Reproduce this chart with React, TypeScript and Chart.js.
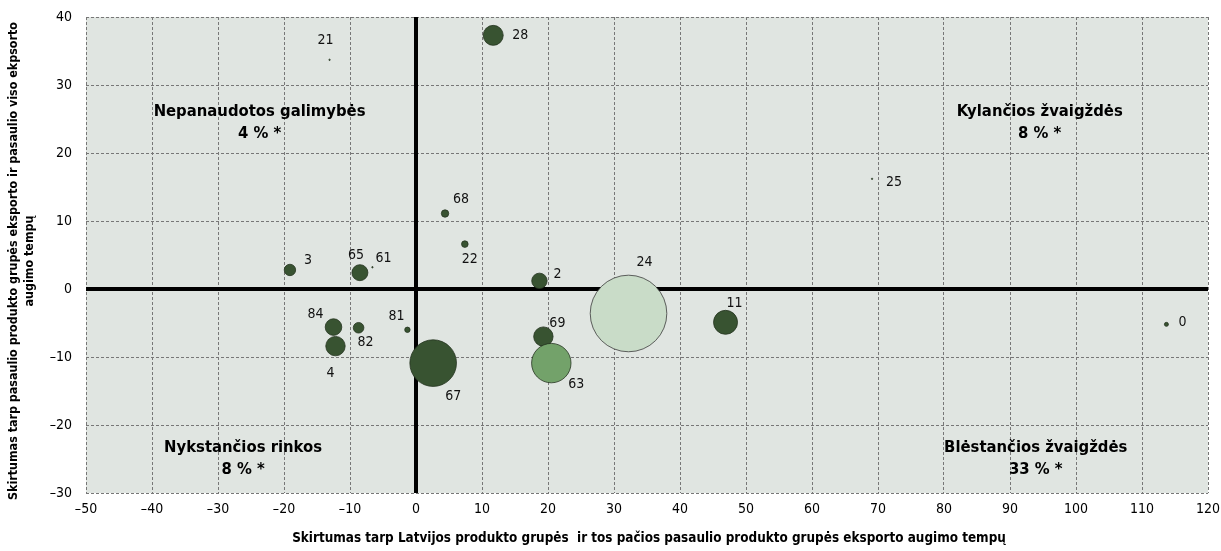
import React, { useEffect, useRef } from 'react';
import { Chart, registerables } from 'chart.js';

Chart.register(...registerables);

// ---- data ----
const productCodes = ['21', '28', '68', '22', '3', '65', '61', '2', '84', '82', '4', '81', '67', '69', '63', '24', '11', '25', '0'];
const latviaVsWorldGrowth = [-13.1, 11.7, 4.4, 7.4, -19.1, -8.5, -6.6, 18.7, -12.5, -8.7, -12.2, -1.3, 2.6, 19.3, 20.5, 32.2, 46.9, 69.1, 113.7];
const groupVsTotalGrowth = [33.7, 37.3, 11.1, 6.6, 2.8, 2.4, 3.2, 1.2, -5.6, -5.7, -8.4, -6.0, -10.9, -7.0, -10.9, -3.6, -4.9, 16.2, -5.2];
const bubbleSizes = [0.7, 10, 3.7, 3.3, 5.7, 8, 0.7, 7.7, 8.3, 5.3, 9.7, 2.7, 23.3, 9.7, 19.7, 38.3, 12, 0.7, 2];
const bubbleShade = ['dark', 'dark', 'dark', 'dark', 'dark', 'dark', 'dark', 'dark', 'dark', 'dark', 'dark', 'dark', 'dark', 'dark', 'mid', 'light', 'dark', 'dark', 'dark'];

const xTickMin = -50;
const xTickMax = 120;
const yTickMin = -30;
const yTickMax = 40;

const quadrantTitles = ['Nepanaudotos galimybės', 'Kylančios žvaigždės', 'Nykstančios rinkos', 'Blėstančios žvaigždės'];
const quadrantShares = ['4 % *', '8 % *', '8 % *', '33 % *'];
const quadrantX = [-23.7, 94.5, -26.2, 93.9];
const quadrantY = [24.5, 24.5, -24.9, -24.9];

const xAxisTitle = 'Skirtumas tarp Latvijos produkto grupės  ir tos pačios pasaulio produkto grupės eksporto augimo tempų';
const yAxisTitle = ['Skirtumas tarp pasaulio produkto grupės eksporto ir pasaulio viso ekpsorto', 'augimo tempų'];

// label offsets (px) relative to the bubble centre
const labelDx = [-4, 27, 16, 5, 18, -4, 11, 18, -18, 7, -5, -11, 20, 14, 25, 16, 9, 22, 16];
const labelDy = [-19, 0, -14, 15, -10, -17, -9, -6, -13, 15, 27, -13, 33, -13, 21, -51, -19, 4, -2];

const NARROW = "'Liberation Sans Narrow', 'Arial Narrow', 'DejaVu Sans Condensed', sans-serif";
const shadeColors: Record<string, string> = { dark: '#385331', mid: '#73a26a', light: '#c9dcc8' };

const minus = (v: number | string) => String(v).replace('-', '\u2013');

export default function App() {
  const ref = useRef<HTMLCanvasElement | null>(null);

  useEffect(() => {
    document.body.style.margin = '0';
    const canvas = ref.current;
    if (!canvas) return;

    const data = productCodes.map((_, i) => ({
      x: latviaVsWorldGrowth[i],
      y: groupVsTotalGrowth[i],
      r: bubbleSizes[i],
    }));

    const decorPlugin = {
      id: 'decor',
      beforeDatasetsDraw(chart: any) {
        const { ctx, chartArea: a, scales } = chart;
        ctx.save();
        ctx.strokeStyle = '#000';
        ctx.lineWidth = 4;
        const x0 = scales.x.getPixelForValue(0);
        const y0 = scales.y.getPixelForValue(0);
        ctx.beginPath();
        ctx.moveTo(x0, a.top);
        ctx.lineTo(x0, a.bottom);
        ctx.moveTo(a.left, y0);
        ctx.lineTo(a.right, y0);
        ctx.stroke();
        ctx.restore();
      },
      afterDatasetsDraw(chart: any) {
        const { ctx, scales } = chart;
        const meta = chart.getDatasetMeta(0);
        ctx.save();
        ctx.fillStyle = '#111';
        ctx.font = `14px ${NARROW}`;
        ctx.textAlign = 'center';
        ctx.textBaseline = 'middle';
        meta.data.forEach((el: any, i: number) => {
          ctx.fillText(productCodes[i], el.x + labelDx[i], el.y + labelDy[i]);
        });
        ctx.font = `bold 16.5px ${NARROW}`;
        ctx.fillStyle = '#000';
        quadrantTitles.forEach((t, i) => {
          const cx = scales.x.getPixelForValue(quadrantX[i]);
          const cy = scales.y.getPixelForValue(quadrantY[i]);
          ctx.fillText(t, cx, cy - 11);
          ctx.fillText(quadrantShares[i], cx, cy + 11);
        });
        ctx.restore();
      },
      beforeDraw(chart: any) {
        const { ctx, chartArea: a } = chart;
        ctx.save();
        ctx.fillStyle = '#fff';
        ctx.fillRect(0, 0, chart.width, chart.height);
        ctx.fillStyle = '#e0e5e1';
        ctx.fillRect(a.left, a.top, a.right - a.left, a.bottom - a.top);
        ctx.restore();
      },
      afterDraw(chart: any) {
        const { ctx } = chart;
        ctx.save();
        ctx.fillStyle = '#000';
        ctx.textAlign = 'center';
        ctx.textBaseline = 'middle';
        ctx.font = `bold 13.4px ${NARROW}`;
        ctx.fillText(xAxisTitle, 649, 539);
        ctx.font = `bold 12.4px ${NARROW}`;
        ctx.translate(14, 261);
        ctx.rotate(-Math.PI / 2);
        ctx.fillText(yAxisTitle[0], 0, 0);
        ctx.fillText(yAxisTitle[1], 0, 16);
        ctx.restore();
      },
    };

    const chart = new Chart(canvas, {
      type: 'bubble',
      data: {
        datasets: [
          {
            data,
            backgroundColor: bubbleShade.map((s) => shadeColors[s]),
            borderColor: bubbleShade.map((s) => (s === 'light' ? '#3b3b3b' : '#24331f')),
            borderWidth: 0.8,
          },
        ],
      },
      options: {
        responsive: false,
        animation: false,
        layout: { autoPadding: false, padding: { top: 17, right: 13, left: 0, bottom: 0 } },
        plugins: { legend: { display: false }, tooltip: { enabled: false } },
        scales: {
          x: {
            type: 'linear',
            min: xTickMin,
            max: xTickMax,
            afterFit: (s: any) => {
              s.height = 58;
              s.paddingLeft = 0;
              s.paddingRight = 0;
            },
            ticks: {
              stepSize: 10,
              color: '#000',
              font: { family: NARROW, size: 14 },
              padding: 8,
              callback: (v: any) => minus(v),
              maxRotation: 0,
            },
            grid: { color: '#777', lineWidth: 1, drawTicks: false },
            border: { display: false, dash: [3, 2] },
          },
          y: {
            type: 'linear',
            min: yTickMin,
            max: yTickMax,
            afterFit: (s: any) => {
              s.width = 86;
              s.paddingTop = 0;
              s.paddingBottom = 0;
            },
            ticks: {
              stepSize: 10,
              color: '#000',
              font: { family: NARROW, size: 14 },
              padding: 14,
              callback: (v: any) => minus(v),
            },
            grid: { color: '#777', lineWidth: 1, drawTicks: false },
            border: { display: false, dash: [3, 2] },
          },
        },
      },
      plugins: [decorPlugin],
    });

    return () => chart.destroy();
  }, []);

  return <canvas ref={ref} width={1221} height={551} style={{ display: 'block' }} />;
}
